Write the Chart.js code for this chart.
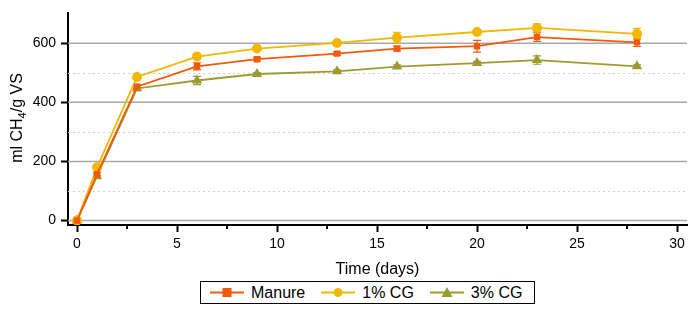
<!DOCTYPE html>
<html>
<head>
<meta charset="utf-8">
<script src="https://cdn.jsdelivr.net/npm/chart.js@4.4.1/dist/chart.umd.min.js"></script>
<style>
  html, body { margin: 0; padding: 0; background: #fff; }
  #wrap { position: relative; width: 694px; height: 315px; font-family: "Liberation Sans", Arial, sans-serif; }
  #box { position: absolute; left: 0; top: 0; width: 694px; height: 280px; }
  #legend {
    position: absolute; left: 200px; top: 281px; width: 333px; height: 21px;
    border: 1px solid #000; display: flex; align-items: center; font-size: 16px; color: #000;
  }
  .item { display: flex; align-items: center; margin-left: 16px; }
  .item:first-child { margin-left: 9px; }
  .item svg { margin-right: 7px; }
</style>
</head>
<body>
<div id="wrap">
  <div id="box"><canvas id="chart"></canvas></div>
  <div id="legend"></div>
</div>
<script>
const days = [0, 1, 3, 6, 9, 13, 16, 20, 23, 28]
const manure = [0, 157, 453, 522, 546, 565, 582, 590, 621, 603]
const manureErr = [0, 5, 5, 12, 6, 6, 8, 20, 15, 14]
const cg1 = [0, 180, 486, 555, 582, 601, 619, 638, 652, 632]
const cg1Err = [0, 4, 4, 6, 6, 4, 18, 8, 14, 18]
const cg3 = [0, 150, 447, 474, 496, 505, 521, 533, 543, 522]
const cg3Err = [0, 4, 4, 14, 5, 5, 6, 6, 14, 5]

const xTicks = [0, 5, 10, 15, 20, 25, 30]
const xMinorTicks = [2.5, 7.5, 12.5, 17.5, 22.5, 27.5]
const yTicks = [0, 200, 400, 600]
const yMinorGrid = [100, 300, 500]

const colors = { manure: "#f05a0a", cg1: "#f2b705", cg3: "#9e9a32" }

const series = [
  { label: "Manure", values: manure, err: manureErr, color: colors.manure, style: "rect", radius: 4.5 },
  { label: "1% CG", values: cg1, err: cg1Err, color: colors.cg1, style: "circle", radius: 5 },
  { label: "3% CG", values: cg3, err: cg3Err, color: colors.cg3, style: "triangle", radius: 6 },
]

const FONT = "'Liberation Sans', Arial, sans-serif"

const gridPlugin = {
  id: "grid",
  beforeDatasetsDraw(chart) {
    const { ctx, chartArea, scales } = chart
    ctx.save()
    ctx.setLineDash([2, 3])
    ctx.strokeStyle = "#d0d0d0"
    ctx.lineWidth = 1
    yMinorGrid.forEach(v => {
      const y = Math.round(scales.y.getPixelForValue(v)) + 0.5
      ctx.beginPath(); ctx.moveTo(chartArea.left, y); ctx.lineTo(chartArea.right, y); ctx.stroke()
    })
    ctx.setLineDash([])
    ctx.strokeStyle = "#a8a8a8"
    ctx.lineWidth = 1.5
    yTicks.forEach(v => {
      const y = scales.y.getPixelForValue(v)
      ctx.beginPath(); ctx.moveTo(chartArea.left, y); ctx.lineTo(chartArea.right, y); ctx.stroke()
    })
    // minor x ticks
    ctx.strokeStyle = "#000"
    ctx.lineWidth = 2
    xMinorTicks.forEach(v => {
      const x = scales.x.getPixelForValue(v)
      ctx.beginPath(); ctx.moveTo(x, chartArea.bottom); ctx.lineTo(x, chartArea.bottom + 4); ctx.stroke()
    })
    // error bars
    series.forEach(s => {
      ctx.strokeStyle = s.color
      ctx.lineWidth = 1.2
      days.forEach((d, i) => {
        const e = s.err[i]
        if (!e) return
        const x = scales.x.getPixelForValue(d)
        const y1 = scales.y.getPixelForValue(s.values[i] - e)
        const y2 = scales.y.getPixelForValue(s.values[i] + e)
        ctx.beginPath()
        ctx.moveTo(x, y1); ctx.lineTo(x, y2)
        ctx.moveTo(x - 4, y1); ctx.lineTo(x + 4, y1)
        ctx.moveTo(x - 4, y2); ctx.lineTo(x + 4, y2)
        ctx.stroke()
      })
    })
    ctx.restore()
  },
  afterDraw(chart) {
    const { ctx } = chart
    const parts = [["ml CH", 16, 0], ["4", 11, 4], ["/g VS", 16, 0]]
    ctx.save()
    let total = 0
    parts.forEach(p => { ctx.font = p[1] + "px " + FONT; total += ctx.measureText(p[0]).width })
    ctx.translate(22, 118)
    ctx.rotate(-Math.PI / 2)
    ctx.fillStyle = "#000"
    ctx.textBaseline = "alphabetic"
    let x = -total / 2
    parts.forEach(p => {
      ctx.font = p[1] + "px " + FONT
      ctx.fillText(p[0], x, p[2])
      x += ctx.measureText(p[0]).width
    })
    ctx.restore()
  }
}

new Chart(document.getElementById("chart"), {
  type: "line",
  data: {
    datasets: series.map(s => ({
      label: s.label,
      data: days.map((d, i) => ({ x: d, y: s.values[i] })),
      borderColor: s.color,
      backgroundColor: s.color,
      borderWidth: 1.8,
      pointStyle: s.style,
      pointRadius: s.radius,
      pointBorderWidth: 0,
      tension: 0,
    }))
  },
  options: {
    responsive: true,
    maintainAspectRatio: false,
    animation: false,
    layout: { padding: { top: 8, right: 7, left: 0, bottom: 0 } },
    plugins: { legend: { display: false }, tooltip: { enabled: false } },
    scales: {
      x: {
        type: "linear",
        min: -0.45,
        max: 30.5,
        afterBuildTicks: s => { s.ticks = xTicks.map(v => ({ value: v })) },
        afterFit: s => { s.height = 55 },
        grid: { drawOnChartArea: false, tickLength: 7, tickColor: "#000", tickWidth: 2 },
        border: { color: "#000", width: 2 },
        ticks: { color: "#000", font: { size: 14, family: FONT }, padding: 4, maxRotation: 0 },
        title: { display: true, text: "Time (days)", color: "#000", font: { size: 16, family: FONT }, padding: { top: 0, bottom: 1 } },
      },
      y: {
        min: -15,
        max: 701,
        afterBuildTicks: s => { s.ticks = yTicks.map(v => ({ value: v })) },
        afterFit: s => { s.width = 68 },
        grid: { drawOnChartArea: false, tickLength: 7, tickColor: "#000", tickWidth: 2 },
        border: { color: "#000", width: 2 },
        ticks: { color: "#000", font: { size: 14, family: FONT }, padding: 5 },
      }
    }
  },
  plugins: [gridPlugin]
})

// legend
const legend = document.getElementById("legend")
series.forEach(s => {
  const item = document.createElement("div")
  item.className = "item"
  let marker
  if (s.style === "rect") marker = `<rect x="12.5" y="4" width="9" height="9" fill="${s.color}"/>`
  else if (s.style === "circle") marker = `<circle cx="17" cy="8.5" r="4.5" fill="${s.color}"/>`
  else marker = `<polygon points="17,3 22.5,13 11.5,13" fill="${s.color}"/>`
  item.innerHTML = `<svg width="34" height="17"><line x1="0" y1="8.5" x2="34" y2="8.5" stroke="${s.color}" stroke-width="2"/>${marker}</svg><span>${s.label}</span>`
  legend.appendChild(item)
})
</script>
</body>
</html>
